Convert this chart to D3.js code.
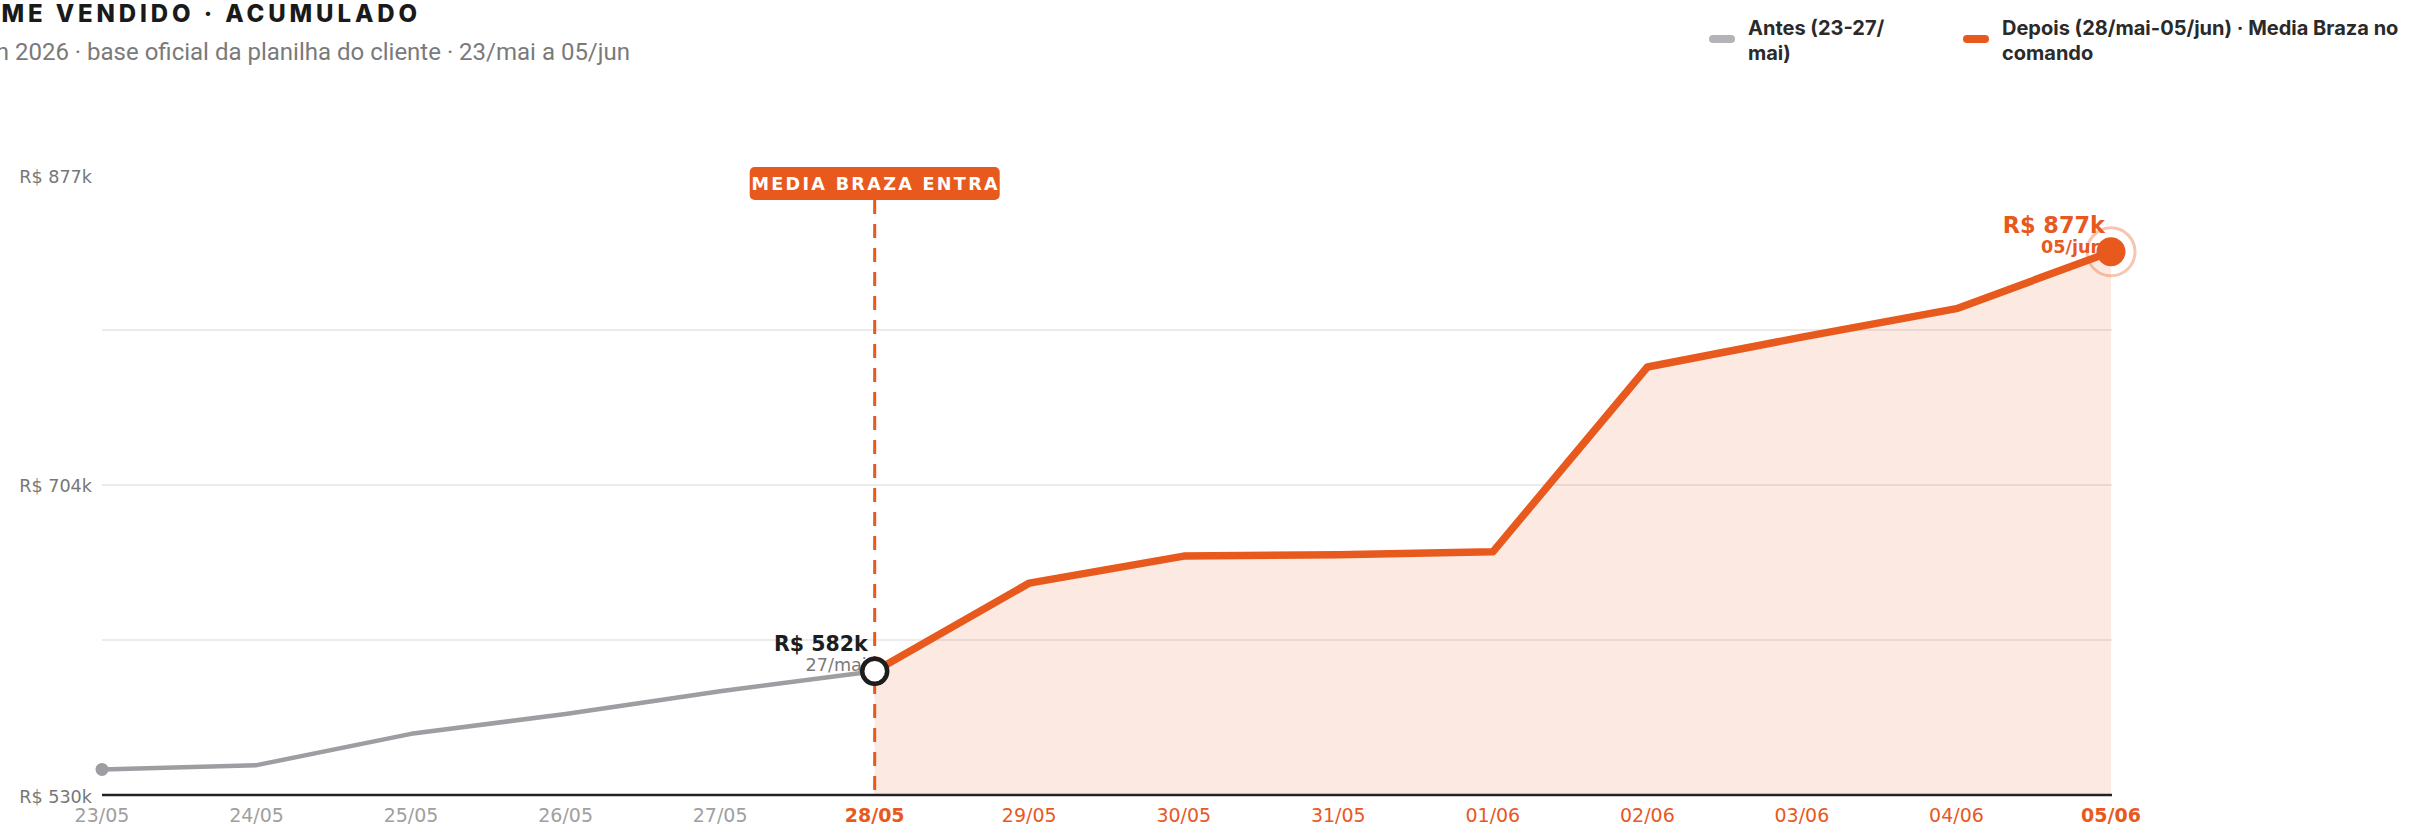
<!DOCTYPE html>
<html><head><meta charset="utf-8">
<script src="https://cdn.jsdelivr.net/npm/d3@7"></script>
<style>
html,body{margin:0;padding:0;background:#fff;overflow:hidden}
svg{display:block}
</style></head><body>
<svg id="c" width="2428" height="826"></svg>
<script>
// ---------- data ----------
const categories = ["23/05","24/05","25/05","26/05","27/05","28/05","29/05","30/05","31/05","01/06","02/06","03/06","04/06","05/06"];
const antesValues  = [513, 516, 538, 552, 568, 582];            // 23/05 .. 28/05 (k R$)
const depoisValues = [582, 644, 663, 664, 666, 796, 817, 837, 877]; // 28/05 .. 05/06 (k R$)
const yTickValues = [530, 704, 877];
const yTickLabels = ["R$ 530k", "R$ 704k", "R$ 877k"];
const boldTicks = ["28/05", "05/06"];
const antesLegend  = ["Antes (23-27/", "mai)"];
const depoisLegend = ["Depois (28/mai-05/jun) · Media Braza no", "comando"];
const titleText = "VOLUME VENDIDO · ACUMULADO";
const subtitleText = "Mai-Jun 2026 · base oficial da planilha do cliente · 23/mai a 05/jun";
const eventLabel = "MEDIA BRAZA ENTRA";
const eventCategory = "28/05";
const startValueLabel = "R$ 582k", startDateLabel = "27/mai";
const endValueLabel = "R$ 877k", endDateLabel = "05/jun";

// ---------- setup ----------
const ORANGE = "#E8591E", GRAY = "#9d9da2";
const svg = d3.select("#c");
const pLeft = 102, pRight = 2111, pTop = 175, pBottom = 795;
const x = d3.scalePoint().domain(categories).range([pLeft, pRight]);
const y = d3.scaleLinear().domain([495, 931]).range([pBottom, pTop]);
const yLab = d3.scaleLinear().domain([yTickValues[0], yTickValues[2]]).range([pBottom, pTop]);

const antes = antesValues.map((v, i) => ({c: categories[i], v}));
const depois = depoisValues.map((v, i) => ({c: categories[i + antesValues.length - 1], v}));

// title + subtitle
svg.append("text").attr("x", 421).attr("y", 22).attr("text-anchor", "end")
  .attr("font-family", "Inter").attr("font-weight", 800).attr("font-size", 24)
  .attr("letter-spacing", 3.9).attr("fill", "#1a1a1a").text(titleText);
svg.append("text").attr("x", 630).attr("y", 60).attr("text-anchor", "end")
  .attr("font-family", "Roboto").attr("font-size", 24).attr("fill", "#7a7a7a").text(subtitleText);

// legend
const legendItems = [
  {lines: antesLegend, color: "#b3b3b8", sx: 1709, tx: 1748},
  {lines: depoisLegend, color: ORANGE, sx: 1963, tx: 2002}
];
legendItems.forEach(it => {
  svg.append("rect").attr("x", it.sx).attr("y", 35).attr("width", 26).attr("height", 8)
    .attr("rx", 4).attr("fill", it.color);
  const t = svg.append("text").attr("font-family", "Inter").attr("font-weight", 700)
    .attr("font-size", 20).attr("fill", "#2a2a2a");
  it.lines.forEach((l, i) => t.append("tspan").attr("x", it.tx).attr("y", 35 + i * 25).text(l));
});

// gridlines (quarters of labelled range)
const gridVals = [1, 2, 3].map(k => yTickValues[0] + k * (yTickValues[2] - yTickValues[0]) / 4);
svg.append("g").selectAll("line").data(gridVals).join("line")
  .attr("x1", pLeft).attr("x2", pRight + 1).attr("y1", d => yLab(d)).attr("y2", d => yLab(d))
  .attr("stroke", "#e4e4e4").attr("stroke-width", 1.6);

// y labels
svg.append("g").selectAll("text").data(yTickValues).join("text")
  .attr("x", 92).attr("y", d => yLab(d) + 8).attr("text-anchor", "end")
  .attr("font-family", "DejaVu Sans").attr("font-size", 17.6).attr("fill", "#777")
  .text((d, i) => yTickLabels[i]);

// area under "depois"
svg.append("path").datum(depois)
  .attr("d", d3.area().x(d => x(d.c)).y0(pBottom).y1(d => y(d.v)))
  .attr("fill", ORANGE).attr("fill-opacity", 0.13);

// axis line
svg.append("line").attr("x1", pLeft).attr("x2", pRight + 1).attr("y1", pBottom).attr("y2", pBottom)
  .attr("stroke", "#222").attr("stroke-width", 2.5);

// x labels
const afterIdx = categories.indexOf(eventCategory);
svg.append("g").selectAll("text").data(categories).join("text")
  .attr("x", d => x(d)).attr("y", 822).attr("text-anchor", "middle")
  .attr("font-family", "DejaVu Sans").attr("font-size", 19)
  .attr("font-weight", d => boldTicks.includes(d) ? "bold" : "normal")
  .attr("fill", (d, i) => i >= afterIdx ? ORANGE : "#a0a0a0")
  .text(d => d);

// event dashed line + label
const ex = x(eventCategory);
svg.append("line").attr("x1", ex).attr("x2", ex).attr("y1", 200).attr("y2", pBottom)
  .attr("stroke", ORANGE).attr("stroke-width", 3).attr("stroke-dasharray", "14,10");
svg.append("rect").attr("x", ex - 125).attr("y", 167).attr("width", 250).attr("height", 33)
  .attr("rx", 5).attr("fill", ORANGE);
svg.append("text").attr("x", ex + 1).attr("y", 190).attr("text-anchor", "middle")
  .attr("font-family", "DejaVu Sans").attr("font-weight", "bold").attr("font-size", 17.6)
  .attr("letter-spacing", 2.3).attr("fill", "#fff").text(eventLabel);

// lines
const line = d3.line().x(d => x(d.c)).y(d => y(d.v));
svg.append("path").datum(antes).attr("d", line).attr("fill", "none")
  .attr("stroke", GRAY).attr("stroke-width", 4.5).attr("stroke-linejoin", "round");
svg.append("path").datum(depois).attr("d", line).attr("fill", "none")
  .attr("stroke", ORANGE).attr("stroke-width", 7.5).attr("stroke-linejoin", "round");

// start dot
svg.append("circle").attr("cx", x(antes[0].c)).attr("cy", y(antes[0].v)).attr("r", 6.5).attr("fill", GRAY);

// start-of-event marker + labels
const sp = antes[antes.length - 1];
svg.append("text").attr("x", x(sp.c) - 7).attr("y", y(sp.v) - 20).attr("text-anchor", "end")
  .attr("font-family", "DejaVu Sans").attr("font-weight", "bold").attr("font-size", 20.5)
  .attr("fill", "#1d1d1d").text(startValueLabel);
svg.append("text").attr("x", x(sp.c) - 8).attr("y", y(sp.v)).attr("text-anchor", "end")
  .attr("font-family", "DejaVu Sans").attr("font-size", 17.6)
  .attr("fill", "#7a7a7a").text(startDateLabel);
svg.append("circle").attr("cx", x(sp.c)).attr("cy", y(sp.v)).attr("r", 12.5)
  .attr("fill", "#fff").attr("stroke", "#1d1d1d").attr("stroke-width", 4.5);

// end marker + labels
const ep = depois[depois.length - 1];
svg.append("text").attr("x", x(ep.c) - 6).attr("y", y(ep.v) - 19).attr("text-anchor", "end")
  .attr("font-family", "DejaVu Sans").attr("font-weight", "bold").attr("font-size", 22.4)
  .attr("fill", ORANGE).text(endValueLabel);
svg.append("text").attr("x", x(ep.c) - 8).attr("y", y(ep.v) + 1).attr("text-anchor", "end")
  .attr("font-family", "DejaVu Sans").attr("font-weight", "bold").attr("font-size", 17.6)
  .attr("fill", ORANGE).text(endDateLabel);
svg.append("circle").attr("cx", x(ep.c)).attr("cy", y(ep.v)).attr("r", 24)
  .attr("fill", "none").attr("stroke", ORANGE).attr("stroke-opacity", 0.35).attr("stroke-width", 3);
svg.append("circle").attr("cx", x(ep.c)).attr("cy", y(ep.v)).attr("r", 14.5).attr("fill", ORANGE);
</script>
</body></html>
